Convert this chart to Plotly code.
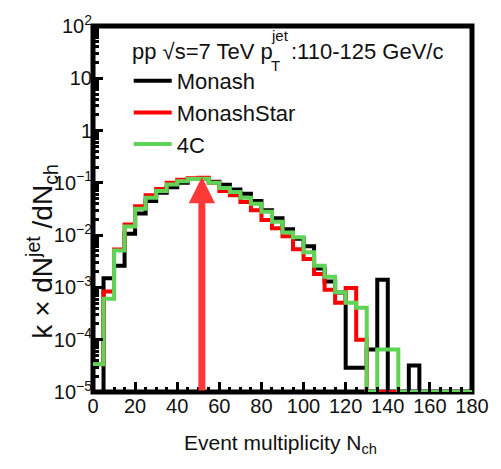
import math
import plotly.graph_objects as go

# ---------------- data ----------------
bin_edges = list(range(0, 185, 5))  # 0,5,...,180 -> 36 bins

monash = [0, 1.5e-3, 2.6e-3, 0.0106, 0.026, 0.045, 0.065, 0.082, 0.100, 0.118,
          0.120, 0.105, 0.092, 0.075, 0.062, 0.045, 0.030, 0.021, 0.013, 0.0085,
          0.0061, 0.0023, 0.0013, 8e-4, 2.9e-5, 2.9e-5, 6.5e-5, 1.4e-3, 0, 0,
          3.2e-5, 0, 0, 0, 0, 0]

monash_star = [3.4e-5, 8.4e-4, 5.3e-3, 0.0159, 0.0357, 0.058, 0.076, 0.100, 0.115, 0.122,
               0.125, 0.100, 0.070, 0.058, 0.043, 0.030, 0.0194, 0.0136, 0.0095, 0.0054,
               0.0035, 0.0018, 9e-4, 5.1e-4, 9.7e-4, 1e-4, 0, 0, 0, 0,
               0, 0, 0, 0, 0, 0]

tune_4c = [3.4e-5, 6.1e-4, 5.1e-3, 0.0146, 0.032, 0.052, 0.070, 0.093, 0.107, 0.118,
           0.120, 0.100, 0.080, 0.067, 0.052, 0.040, 0.028, 0.018, 0.0112, 0.0091,
           0.0047, 0.0026, 0.0016, 8.1e-4, 5.1e-4, 4.1e-4, 0, 6.5e-5, 6.5e-5, 0,
           0, 0, 0, 0, 0, 0]

series_names = ["Monash", "MonashStar", "4C"]
series_colors = ["#000000", "#ff0000", "#5fd456"]

mean_nch = 51.7        # arrow position
arrow_top = 0.13

x_tick_vals = [0, 20, 40, 60, 80, 100, 120, 140, 160, 180]
x_tick_text = [str(v) for v in x_tick_vals]
y_tick_vals = [1e-5, 1e-4, 1e-3, 1e-2, 1e-1, 1, 10, 100]
y_tick_text = ["10<sup>\u22125</sup>", "10<sup>\u22124</sup>", "10<sup>\u22123</sup>",
               "10<sup>\u22122</sup>", "10<sup>\u22121</sup>", "1", "10", "10<sup>2</sup>"]

Y_MIN, Y_MAX = 1e-5, 1e2

# ---------------- figure ----------------
W, H = 501, 469
L, R, T, B = 93, 26, 15, 77
pw, ph = W - L - R, H - T - B

def px_x(p):
    return (p - L) / pw

def px_y(p):
    return (H - B - p) / ph

fig = go.Figure()
for name, vals, col in zip(series_names, [monash, monash_star, tune_4c], series_colors):
    yy = [v if v > 0 else Y_MIN for v in vals]
    yy = yy + [yy[-1]]
    fig.add_trace(go.Scatter(x=bin_edges, y=yy, mode="lines", name=name,
                             line=dict(color=col, width=4, shape="hv"),
                             legendgroup=name))

minor_y = [m * 10 ** e for e in range(-5, 2) for m in range(2, 10)]

fig.update_xaxes(range=[0, 180], tickmode="array", tickvals=x_tick_vals, ticktext=x_tick_text,
                 ticks="inside", ticklen=10, tickwidth=3, tickcolor="black",
                 minor=dict(ticks="inside", ticklen=5, tickwidth=3, tickcolor="black", dtick=5),
                 showgrid=False, zeroline=False, showline=False,
                 tickfont=dict(family="Liberation Sans, Arial", size=20, color="#111"))
fig.update_yaxes(type="log", range=[math.log10(Y_MIN), math.log10(Y_MAX)],
                 tickmode="array", tickvals=y_tick_vals, ticktext=y_tick_text,
                 ticks="inside", ticklen=10, tickwidth=3, tickcolor="black",
                 minor=dict(ticks="inside", ticklen=6, tickwidth=3, tickcolor="black",
                            tickmode="array", tickvals=minor_y),
                 showgrid=False, zeroline=False, showline=False,
                 tickfont=dict(family="Liberation Sans, Arial", size=20, color="#111"))

fig.add_shape(type="rect", xref="x domain", yref="y domain", x0=0, x1=1, y0=0, y1=1,
              line=dict(color="black", width=5), layer="below")

font_main = dict(family="Liberation Sans, Arial", size=22, color="#111")
font_small = dict(family="Liberation Sans, Arial", size=15, color="#111")

ann = [
    dict(x=mean_nch, y=math.log10(arrow_top), ax=mean_nch, ay=math.log10(Y_MIN),
         xref="x", yref="y", axref="x", ayref="y", text="", showarrow=True,
         arrowhead=2, arrowsize=0.75, arrowwidth=7, arrowcolor="#ff3838"),
    dict(x=px_x(130), y=px_y(41), xref="paper", yref="paper", xanchor="left", yanchor="middle",
         text="pp \u221as=7 TeV p", showarrow=False, font=font_main),
    dict(x=px_x(270), y=px_y(25), xref="paper", yref="paper", xanchor="left", yanchor="middle",
         text="jet", showarrow=False, font=font_small),
    dict(x=px_x(270), y=px_y(56), xref="paper", yref="paper", xanchor="left", yanchor="middle",
         text="T", showarrow=False, font=font_small),
    dict(x=px_x(291), y=px_y(41), xref="paper", yref="paper", xanchor="left", yanchor="middle",
         text=":110-125 GeV/c", showarrow=False, font=font_main),
    dict(x=px_x(282), y=px_y(446), xref="paper", yref="paper", xanchor="center", yanchor="middle",
         text="Event multiplicity N<sub>ch</sub>", showarrow=False,
         font=dict(family="Liberation Sans, Arial", size=21, color="#111")),
    dict(x=px_x(42), y=px_y(247), xref="paper", yref="paper", xanchor="center", yanchor="middle",
         text="k \u00d7 dN<sup>jet</sup> /dN<sub>ch</sub>", showarrow=False, textangle=-90,
         font=dict(family="Liberation Sans, Arial", size=28, color="#111")),
]

fig.update_layout(
    width=W, height=H, margin=dict(l=L, r=R, t=T, b=B),
    paper_bgcolor="white", plot_bgcolor="white",
    showlegend=True,
    legend=dict(x=px_x(129), y=px_y(50), xanchor="left", yanchor="top",
                font=font_main, bgcolor="rgba(0,0,0,0)", traceorder="grouped",
                tracegroupgap=0, itemwidth=38),
    annotations=ann,
)

fig.write_html("out.html")
